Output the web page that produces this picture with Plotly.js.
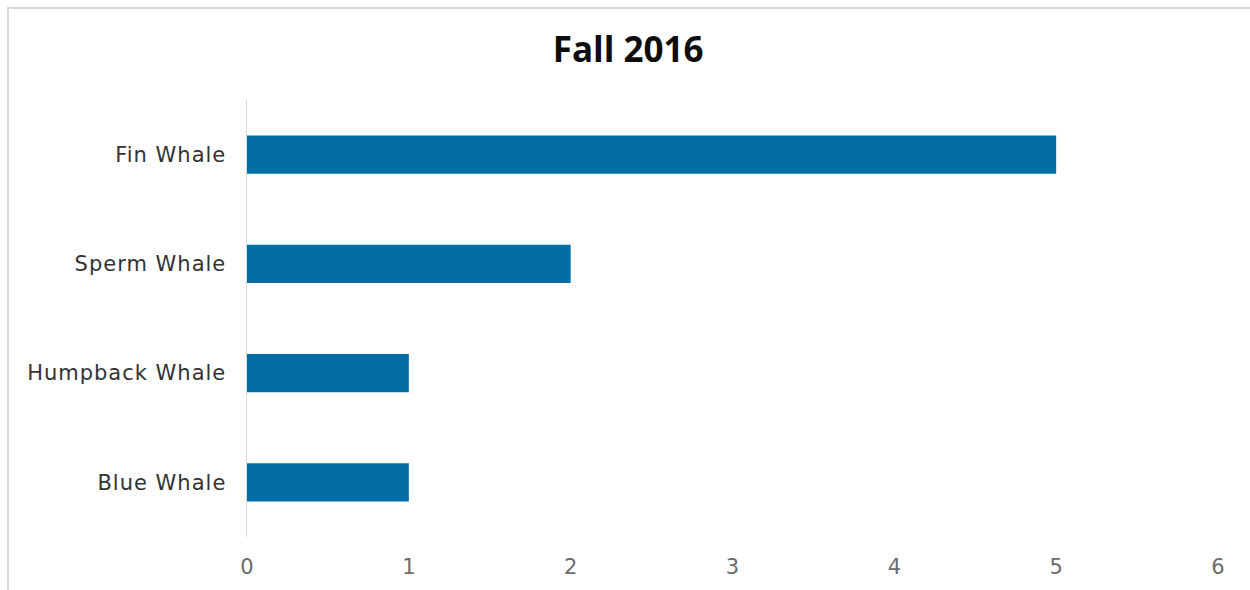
<!DOCTYPE html>
<html>
<head>
<meta charset="utf-8">
<script src="https://cdn.plot.ly/plotly-3.0.1.min.js"></script>
<style>
  html, body { margin: 0; padding: 0; background: #fff; }
  #frame {
    position: absolute; left: 7px; top: 7px; width: 1243px; height: 583px;
    border-top: 2px solid #d9d9d9; border-left: 2px solid #d9d9d9;
    box-sizing: border-box;
  }
  #chart { position: absolute; left: 0; top: 0; width: 1250px; height: 590px; }
  #chart .ytick text { letter-spacing: 1px; }
</style>
</head>
<body>
<div id="frame"></div>
<div id="chart"></div>
<script>
// species, top to bottom as drawn
const species = ["Fin Whale", "Sperm Whale", "Humpback Whale", "Blue Whale"];
const counts = [5, 2, 1, 1];
const xTicks = [0, 1, 2, 3, 4, 5, 6];

const trace = {
  type: "bar",
  orientation: "h",
  y: species,
  x: counts,
  width: 0.35,
  marker: { color: "#026ea5" },
  hoverinfo: "x+y",
};

const layout = {
  width: 1250,
  height: 590,
  margin: { l: 247, r: 32, t: 100, b: 53 },
  paper_bgcolor: "rgba(0,0,0,0)",
  plot_bgcolor: "rgba(0,0,0,0)",
  showlegend: false,
  title: {
    text: "<b>Fall 2016</b>",
    x: 0.5025,
    xanchor: "center",
    y: 0.915,
    yanchor: "middle",
    font: { family: "Open Sans, sans-serif", size: 35, color: "#0d0d0d" },
  },
  xaxis: {
    range: [0, 6],
    tickvals: xTicks,
    ticktext: xTicks.map(String),
    showgrid: false,
    zeroline: false,
    showline: false,
    ticks: "outside",
    ticklen: 11,
    tickcolor: "rgba(0,0,0,0)",
    tickfont: { family: "DejaVu Sans, sans-serif", size: 21, color: "#6b6b6b" },
    fixedrange: true,
  },
  yaxis: {
    type: "category",
    categoryorder: "array",
    categoryarray: species,
    autorange: "reversed",
    showgrid: false,
    zeroline: false,
    showline: true,
    linecolor: "#d9d9d9",
    linewidth: 1.5,
    ticks: "outside",
    ticklen: 15,
    tickcolor: "rgba(0,0,0,0)",
    tickfont: { family: "DejaVu Sans, sans-serif", size: 21, color: "#333333" },
    fixedrange: true,
  },
};

Plotly.newPlot("chart", [trace], layout, { displayModeBar: false, staticPlot: true });
</script>
</body>
</html>
